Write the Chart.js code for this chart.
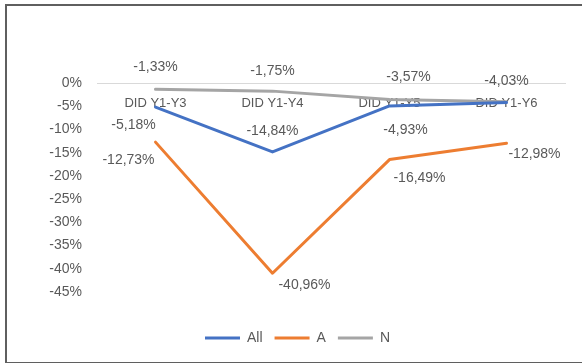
<!DOCTYPE html>
<html>
<head>
<meta charset="utf-8">
<script src="https://cdn.jsdelivr.net/npm/chart.js"></script>
<style>
  html, body { margin: 0; padding: 0; background: #fff; }
  #wrap { position: relative; width: 582px; height: 363px; overflow: hidden; }
  #frame { position: absolute; left: 5px; top: 4px; width: 640px; height: 356px; border: 2px solid #5f5f5f; pointer-events: none; }
</style>
</head>
<body>
<div id="wrap">
  <canvas id="didChart" width="582" height="363"></canvas>
  <div id="frame"></div>
</div>
<script>
// DID estimates per period (%)
const categories = ["DID Y1-Y3", "DID Y1-Y4", "DID Y1-Y5", "DID Y1-Y6"];
const allValues = [-5.18, -14.84, -4.93, -4.2];
const aValues = [-12.73, -40.96, -16.49, -12.98];
const nValues = [-1.33, -1.75, -3.57, -4.03];
// which points carry a value label
const allShown = [true, true, true, false];
const aShown = [true, true, true, true];
const nShown = [true, true, true, true];

// label offsets from each point, in px
const labelOffsets = [
    [[-22, 18], [0, -21], [16, 24], [0, 0]],
    [[-27, 18], [32, 12], [30, 19], [28, 11]],
    [[0, -22], [0, -20], [19, -22], [0, -21]]
];
const shownFlags = [allShown, aShown, nShown];

const textColor = "#595959";
const fontFamily = "'Liberation Sans', Arial, sans-serif";

function fmtPct(v) {
    return v.toFixed(2).replace(".", ",") + "%";
}

const valueLabels = {
    id: "valueLabels",
    afterDatasetsDraw(chart) {
        const ctx = chart.ctx;
        ctx.save();
        ctx.font = "14px " + fontFamily;
        ctx.fillStyle = textColor;
        ctx.textAlign = "center";
        ctx.textBaseline = "middle";
        chart.data.datasets.forEach((ds, di) => {
            const meta = chart.getDatasetMeta(di);
            meta.data.forEach((pt, i) => {
                if (!shownFlags[di][i]) return;
                const off = labelOffsets[di][i];
                ctx.fillText(fmtPct(ds.data[i]), pt.x + off[0], pt.y + off[1]);
            });
        });
        ctx.restore();
    }
};

const ctx = document.getElementById("didChart").getContext("2d");

new Chart(ctx, {
    type: "line",
    data: {
        labels: categories,
        datasets: [
            { label: "All", data: allValues, borderColor: "#4472C4", backgroundColor: "#4472C4", borderWidth: 3 },
            { label: "A", data: aValues, borderColor: "#ED7D31", backgroundColor: "#ED7D31", borderWidth: 3 },
            { label: "N", data: nValues, borderColor: "#A5A5A5", backgroundColor: "#A5A5A5", borderWidth: 3 }
        ]
    },
    options: {
        responsive: false,
        animation: false,
        clip: false,
        layout: { padding: { left: 30, right: 17, top: 83, bottom: 8 } },
        elements: {
            line: { tension: 0, borderCapStyle: "round", borderJoinStyle: "round" },
            point: { radius: 0, hoverRadius: 0 }
        },
        scales: {
            x: {
                position: { y: 0 },
                offset: true,
                grid: { display: false, drawTicks: false },
                border: { display: true, color: "#d9d9d9", width: 1 },
                ticks: {
                    color: textColor,
                    font: { family: fontFamily, size: 13 },
                    padding: 13,
                    maxRotation: 0
                }
            },
            // empty strip between the plot and the legend
            gap: {
                type: "category",
                axis: "x",
                position: "bottom",
                grid: { display: false, drawTicks: false },
                border: { display: false },
                ticks: { display: false },
                afterFit(scale) { scale.height = 27; }
            },
            y: {
                min: -45,
                max: 0,
                grid: { display: false, drawTicks: false },
                border: { display: false },
                afterFit(scale) { scale.width = 67; },
                ticks: {
                    stepSize: 5,
                    padding: 15,
                    color: textColor,
                    font: { family: fontFamily, size: 14 },
                    callback: v => v + "%"
                }
            }
        },
        plugins: {
            tooltip: { enabled: false },
            legend: {
                position: "bottom",
                labels: {
                    usePointStyle: true,
                    pointStyle: "line",
                    pointStyleWidth: 35,
                    boxHeight: 14,
                    padding: 12,
                    color: textColor,
                    font: { family: fontFamily, size: 14 }
                }
            }
        }
    },
    plugins: [valueLabels]
});
</script>
</body>
</html>
